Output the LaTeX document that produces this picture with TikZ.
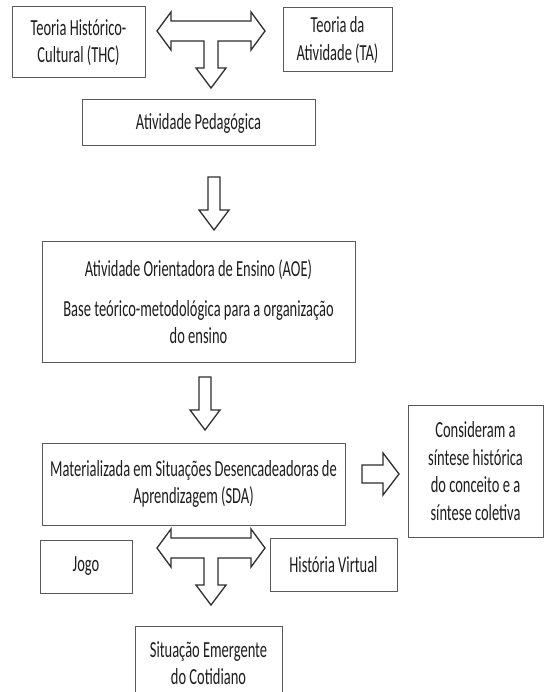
\documentclass[tikz,border=0pt]{standalone}
\usepackage{fontspec}
\setmainfont{Carlito}[FakeStretch=0.63]
\usetikzlibrary{positioning}
\definecolor{boxLine}{HTML}{5A5A5A}
\definecolor{arrowLine}{HTML}{2E2E2E}
\definecolor{textColor}{HTML}{1E1E1E}

\tikzset{
  caixa/.style={draw=boxLine, line width=1pt, align=center, inner sep=2pt,
    text=textColor, font=\fontsize{23}{27.5}\selectfont},
  seta/.style={draw=arrowLine, line width=1.3pt, fill=white, line join=miter},
  pics/tseta/.style={code={
    \draw[seta] (-54,0) -- (-40,-19) -- (-40,-10) -- (40,-10) -- (40,-19) -- (54,0)
      -- (40,19) -- (40,10) -- (7,10) -- (7,37) -- (15,37) -- (0,57) -- (-15,37)
      -- (-7,37) -- (-7,10) -- (-40,10) -- (-40,19) -- cycle;}},
  pics/bseta/.style={code={
    \draw[seta] (-6,0) -- (6,0) -- (6,33) -- (15,33) -- (0,53) -- (-15,33)
      -- (-6,33) -- cycle;}},
  pics/dseta/.style={code={
    \draw[seta] (0,-9) -- (21,-9) -- (21,-21) -- (37,0) -- (21,21) -- (21,9)
      -- (0,9) -- cycle;}},
}

\begin{document}
\begin{tikzpicture}[x=1pt, y=-1pt]
  \fill[white] (0,0) rectangle (545,692);
  \useasboundingbox (0,0) rectangle (545,692);

  % Teorias
  \node[caixa, minimum width=133pt, minimum height=71pt] (thc) at (78.5,42.5) {Teoria Histórico-\\Cultural (THC)};
  \node[caixa, minimum width=109pt, minimum height=64pt] (ta) at (337.5,40) {Teoria da\\Atividade (TA)};

  % Atividade
  \node[caixa, minimum width=233pt, minimum height=46pt] (ped) at (198.5,123) {Atividade Pedagógica};
  \node[caixa, minimum width=313pt, minimum height=120pt] (aoe) at (198.5,302)
    {Atividade Orientadora de Ensino (AOE)\\[12pt]Base teórico-metodológica para a organização\\do ensino};

  % SDA
  \node[caixa, minimum width=303pt, minimum height=82pt] (sda) at (193.5,484)
    {Materializada em Situações Desencadeadoras de\\Aprendizagem (SDA)};
  \node[caixa, minimum width=135pt, minimum height=132pt] (cons) at (475.5,471)
    {Consideram a\\síntese histórica\\do conceito e a\\síntese coletiva};
  \node[caixa, minimum width=92pt, minimum height=53pt] (jogo) at (86,566.5) {Jogo};
  \node[caixa, minimum width=127pt, minimum height=53pt] (hv) at (333.5,564.5) {História Virtual};
  \node[caixa, minimum width=147pt, minimum height=74pt] (sit) at (208.5,663)
    {Situação Emergente\\do Cotidiano};

  % Setas
  \pic at (211,31) {tseta};
  \pic at (214,177) {bseta};
  \pic at (205,377) {bseta};
  \pic at (362,474) {dseta};
  \pic at (211,548) {tseta};
\end{tikzpicture}
\end{document}
